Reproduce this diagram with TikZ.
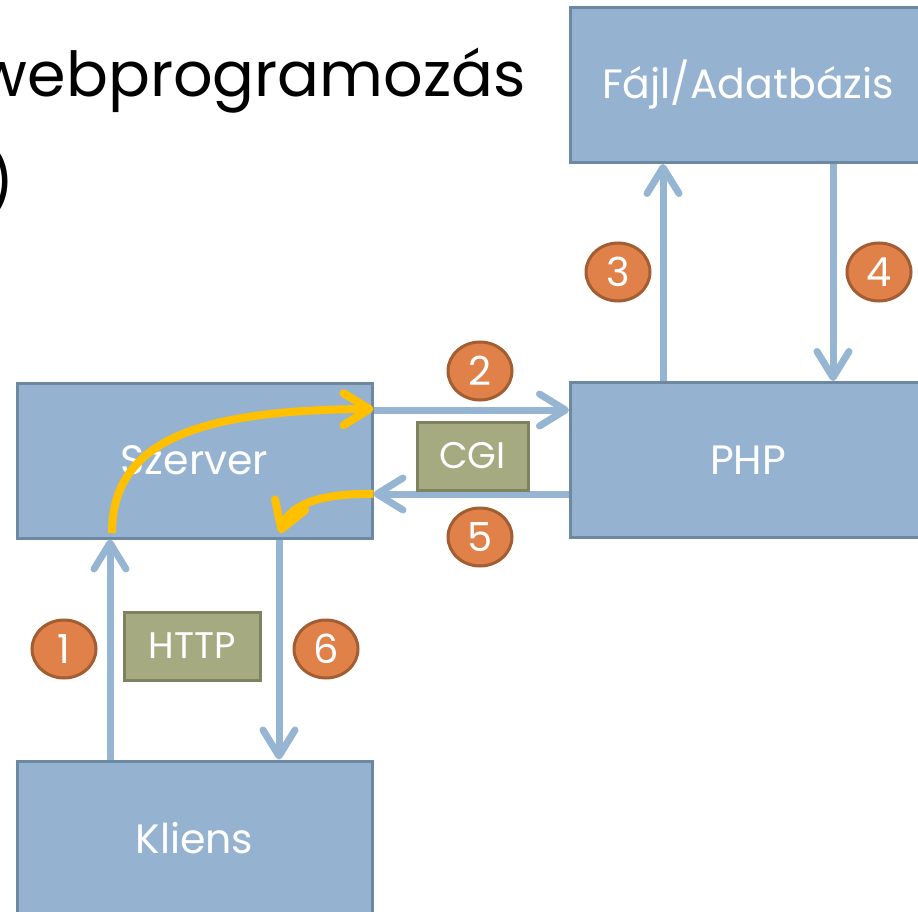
\documentclass[tikz,border=0pt]{standalone}
\usepackage{fontspec}
\setmainfont{Poppins}
\usetikzlibrary{arrows.meta,shapes.geometric}
\definecolor{boxfill}{RGB}{149,179,209}
\definecolor{boxline}{RGB}{109,136,161}
\definecolor{flow}{RGB}{149,181,211}
\definecolor{badgefill}{RGB}{223,129,73}
\definecolor{badgeline}{RGB}{163,93,50}
\definecolor{tagfill}{RGB}{165,170,129}
\definecolor{tagline}{RGB}{125,130,95}
\definecolor{accent}{RGB}{255,192,0}
\begin{document}
\begin{tikzpicture}[x=1pt,y=-1pt,
  block/.style={rectangle, draw=boxline, fill=boxfill, line width=3pt,
    minimum width=355pt, minimum height=155pt, inner sep=0pt,
    text=white, font=\fontsize{41}{41}\selectfont},
  badge/.style={ellipse, draw=badgeline, fill=badgefill, line width=3pt,
    minimum width=64pt, minimum height=58pt, inner sep=0pt,
    text=white, font=\fontsize{40}{40}\selectfont},
  tag/.style={rectangle, draw=tagline, fill=tagfill, line width=3pt,
    inner sep=0pt, text=white, font=\fontsize{37}{37}\selectfont},
  flowarrow/.style={draw=flow, line width=7pt,
    -{Straight Barb[length=26pt,width=32pt,round]}},
  hop/.style={draw=accent, line width=8pt,
    -{Straight Barb[length=26pt,width=32pt,round]}},
]
\useasboundingbox (0,0) rectangle (918,912);
\clip (0,0) rectangle (918,912);

% heading, partly outside the frame
\node[anchor=base east, inner sep=0pt, font=\fontsize{62}{62}\selectfont]
  (heading) at (526,97) {webprogramozás};
\node[anchor=base east, inner sep=0pt, font=\fontsize{62}{62}\selectfont]
  (paren) at (15,205) {)};

% components
\node[block] (file)   at (748,85)    {Fájl/Adatbázis};
\node[block] (php)    at (748,460)   {PHP};
\node[block] (server) at (194.5,460.5) {Szerver};
\node[block] (client) at (194.5,838.5) {Kliens};

% request / response flow
\draw[flowarrow] (110,0 |- client.north) -- (110,0 |- server.south);
\draw[flowarrow] (279,0 |- server.south) -- (279,0 |- client.north);
\draw[flowarrow] (server.east |- 0,410) -- (php.west |- 0,410);
\draw[flowarrow] (php.west |- 0,494) -- (server.east |- 0,494);
\draw[flowarrow] (663,0 |- php.north) -- (663,0 |- file.south);
\draw[flowarrow] (833,0 |- file.south) -- (833,0 |- php.north);

% protocol tags
\node[tag, minimum width=111pt, minimum height=68pt] (cgi)  at (472.5,456) {CGI};
\node[tag, minimum width=136pt, minimum height=68pt] (http) at (192,646)   {HTTP};

% step numbers
\node[badge] (s1) at (64,649)  {1};
\node[badge] (s2) at (480,371) {2};
\node[badge] (s3) at (618,272) {3};
\node[badge] (s4) at (879,272) {4};
\node[badge] (s5) at (480,537) {5};
\node[badge] (s6) at (326,649) {6};

% path through the server
\coordinate (hopin)  at (112,533);
\coordinate (hopout) at (280,533);
\draw[hop] (hopin) .. controls (112,440) and (200,410) .. (server.east |- 0,409);
\draw[hop] (server.east |- 0,494) .. controls (320,493) and (290,505) .. (hopout);
\end{tikzpicture}
\end{document}
